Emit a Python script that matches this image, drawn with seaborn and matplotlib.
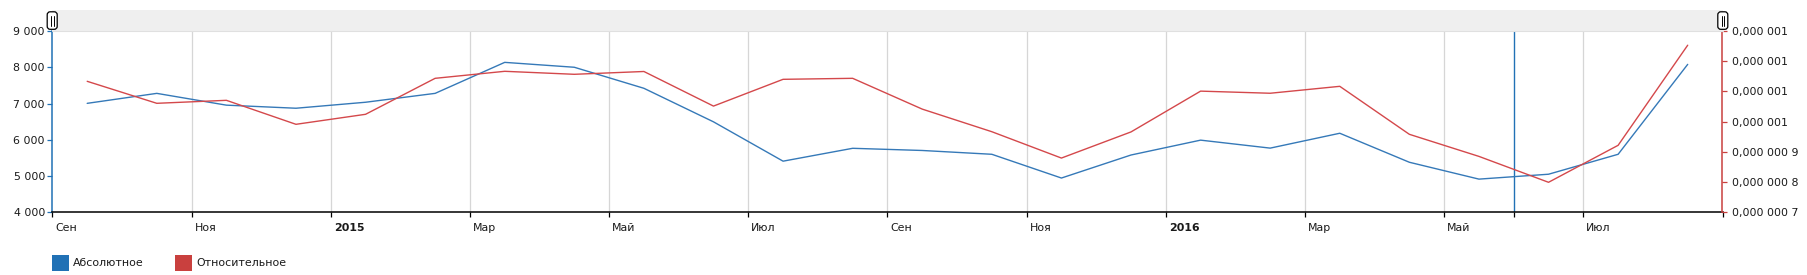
import numpy as np
import pandas as pd
import matplotlib
matplotlib.use("Agg")
import matplotlib.pyplot as plt
import matplotlib.transforms as mtransforms
from matplotlib.patches import Rectangle, FancyBboxPatch
from matplotlib.lines import Line2D
from matplotlib.ticker import FixedLocator, FuncFormatter
import seaborn as sns

# ---------------- data ----------------
months = ["2014-09", "2014-10", "2014-11", "2014-12", "2015-01", "2015-02",
          "2015-03", "2015-04", "2015-05", "2015-06", "2015-07", "2015-08",
          "2015-09", "2015-10", "2015-11", "2015-12", "2016-01", "2016-02",
          "2016-03", "2016-04", "2016-05", "2016-06", "2016-07", "2016-08"]
absolute = [7005, 7280, 6955, 6870, 7035, 7280, 8135, 8000, 7420, 6495, 5410, 5765,
            5705, 5600, 4945, 5580, 5990, 5770, 6180, 5380, 4915, 5050, 5600, 8080]
relative = [1.1335e-6, 1.0607e-6, 1.0706e-6, 0.9912e-6, 1.0243e-6, 1.1434e-6,
            1.1666e-6, 1.1567e-6, 1.1660e-6, 1.0515e-6, 1.1401e-6, 1.1434e-6,
            1.0415e-6, 0.9667e-6, 0.8795e-6, 0.9660e-6, 1.1010e-6, 1.0940e-6,
            1.1169e-6, 0.9581e-6, 0.8850e-6, 0.7993e-6, 0.9217e-6, 1.2530e-6]
x_labels = ["Сен", "Ноя", "2015", "Мар", "Май", "Июл",
            "Сен", "Ноя", "2016", "Мар", "Май", "Июл"]
series_names = ["Абсолютное", "Относительное"]
left_ticks = [4000, 5000, 6000, 7000, 8000, 9000]
right_ticks = [0.7e-6, 0.8e-6, 0.9e-6, 1.0e-6, 1.1e-6, 1.2e-6, 1.3e-6]

df = pd.DataFrame({"month": months, "abs": absolute, "rel": relative})
df["pos"] = np.arange(len(df)) + 0.5   # category centres

# ---------------- style ----------------
sns.set_style("white")
plt.rcParams["font.family"] = ["DejaVu Sans"]
FS = 7.9
BLUE = "#2171b5"
BLUE_LINE = "#3579b8"
RED = "#c9403e"
RED_LINE = "#d4484b"
TXT = "#1a1a1a"

W, H = 1807, 275
fig = plt.figure(figsize=(W / 100, H / 100), dpi=100)
L, R, T, B = 52.4, 1722.5, 31.0, 212.3
ax = fig.add_axes([L / W, 1 - B / H, (R - L) / W, (B - T) / H])
ax2 = ax.twinx()

sns.lineplot(data=df, x="pos", y="abs", ax=ax, color=BLUE_LINE, lw=1.0)
sns.lineplot(data=df, x="pos", y="rel", ax=ax2, color=RED_LINE, lw=1.0)

ax.set_xlim(0, len(df))
ax.set_ylim(left_ticks[0], left_ticks[-1])
ax2.set_ylim(right_ticks[0], right_ticks[-1])
ax.set_xlabel("")
ax.set_ylabel("")
ax2.set_ylabel("")

# spines
for s in ["top", "right"]:
    ax.spines[s].set_visible(False)
ax.spines["left"].set_color(BLUE)
ax.spines["left"].set_linewidth(1.1)
ax.spines["bottom"].set_color("#000000")
ax.spines["bottom"].set_linewidth(1.1)
for s in ["top", "left", "bottom"]:
    ax2.spines[s].set_visible(False)
ax2.spines["right"].set_color(RED)
ax2.spines["right"].set_linewidth(1.1)

# left y axis
ax.yaxis.set_major_locator(FixedLocator(left_ticks))
ax.yaxis.set_major_formatter(FuncFormatter(lambda v, p: f"{int(round(v)):,}".replace(",", " ")))
ax.tick_params(axis="y", which="major", direction="out", length=3.6, width=0.9,
               color=BLUE, labelcolor=TXT, labelsize=FS, pad=1.8, left=True)


def rel_fmt(v, p):
    d = 7 if v < 0.99e-6 else 6
    s = f"{v:.{d}f}"
    ip, fp = s.split(".")
    groups = [fp[i:i + 3] for i in range(0, len(fp), 3)]
    return ip + "," + " ".join(groups)


ax2.yaxis.set_major_locator(FixedLocator(right_ticks))
ax2.yaxis.set_major_formatter(FuncFormatter(rel_fmt))
ax2.tick_params(axis="y", which="major", direction="out", length=3.6, width=0.9,
                color=RED, labelcolor=TXT, labelsize=FS, pad=3.3, right=True)

# x axis: label every second month (category start), extra tick at guide
tick_pos = list(np.arange(0, len(df) + 1, 2))
ax.xaxis.set_major_locator(FixedLocator(tick_pos))
ax.set_xticklabels(x_labels + [""])
ax.xaxis.set_minor_locator(FixedLocator([21]))
ax.tick_params(axis="x", which="both", direction="out", length=3.6, width=0.9,
               color="#000000", labelcolor=TXT, labelsize=FS, pad=4.3, bottom=True)
offset = mtransforms.ScaledTranslation(3 / 100, 0, fig.dpi_scale_trans)
for lab in ax.get_xticklabels():
    lab.set_horizontalalignment("left")
    lab.set_transform(lab.get_transform() + offset)
    if lab.get_text() in ("2015", "2016"):
        lab.set_fontweight("bold")

ax.grid(False)
ax2.grid(False)
for xp in tick_pos[1:-1]:
    ax.axvline(xp, color="#d6d6d6", lw=0.9, zorder=0)
ax.axvline(21, color=BLUE, lw=1.0, zorder=1)

# ---------------- scrollbar strip (pixel coordinates) ----------------
PX = mtransforms.IdentityTransform()


def py(v):
    return H - v


fig.patches.append(Rectangle((L, py(31)), R - L, 21, transform=PX,
                             facecolor="#efefef", edgecolor="none", zorder=0))
fig.add_artist(Line2D([L, R], [py(30.8), py(30.8)], transform=PX,
                      color="#e0e0e0", lw=0.8))
for cx in (52.2, 1722.8):
    w, h = 10.0, 17.5
    fig.patches.append(FancyBboxPatch((cx - w / 2, py(11.8 + h)), w, h,
                                      boxstyle="round,pad=0,rounding_size=3",
                                      transform=PX, facecolor="white",
                                      edgecolor="#000000", lw=0.9, zorder=5))
    for dx in (-1.3, 1.3):
        fig.add_artist(Line2D([cx + dx, cx + dx], [py(15.5), py(25.5)],
                              transform=PX, color="#000000", lw=0.7, zorder=6))

# ---------------- legend ----------------
legend_items = [(52.3, BLUE, series_names[0]), (175.0, RED, series_names[1])]
for x0, col, name in legend_items:
    fig.patches.append(Rectangle((x0, py(271.2)), 16.5, 16.7, transform=PX,
                                 facecolor=col, edgecolor="none"))
    fig.text(x0 + 21, py(263.3), name, fontsize=FS, color=TXT,
             ha="left", va="center", transform=PX)

fig.savefig("out.png", dpi=100)
